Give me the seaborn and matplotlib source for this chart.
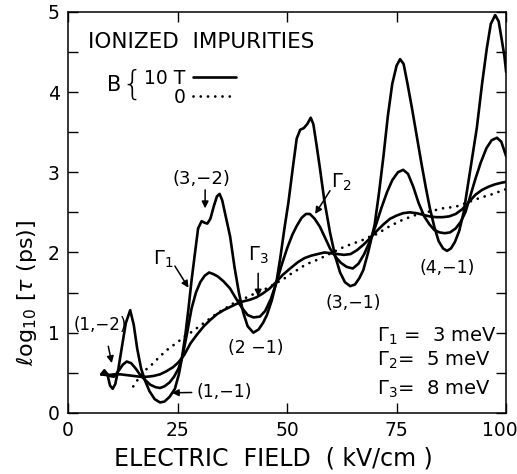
import numpy as np
import pandas as pd
import matplotlib
matplotlib.use('Agg')
import matplotlib.pyplot as plt
import matplotlib.transforms as mtransforms
import seaborn as sns

# curves: x = electric field (kV/cm), y = log10 tau (ps)
g1_x = [7.6, 8.3, 9.0, 9.6, 10.2, 10.8, 11.5, 12.3, 13.2, 14.2, 15.0, 15.8, 16.7, 17.6,
        18.6, 19.8, 21.0, 22.0, 23.2, 24.4, 25.3, 26.0, 26.8, 27.5, 28.2, 29.0, 29.7, 30.5,
        31.2, 31.8, 32.5, 33.3, 34.0, 34.6, 35.2, 36.0, 37.0, 38.0, 39.0, 40.0, 41.0, 42.3,
        43.5, 44.5, 45.4, 46.5, 47.6, 48.5, 49.4, 50.3, 51.3, 52.2, 53.0, 53.8, 54.6, 55.4,
        56.0, 56.7, 57.5, 58.5, 59.8, 61.0, 62.1, 63.2, 64.4, 65.5, 66.5, 67.4, 68.5, 70.0,
        71.0, 72.0, 73.0, 74.0, 75.0, 75.8, 76.6, 77.5, 78.5, 79.6, 80.7, 81.7, 82.6, 83.6,
        84.6, 85.6, 86.5, 87.4, 88.3, 89.3, 90.3, 91.3, 92.3, 93.3, 94.5, 95.6, 96.5, 97.5,
        98.3, 99.0, 99.6, 100.0]
g1_y = [0.48, 0.53, 0.48, 0.34, 0.30, 0.36, 0.55, 0.82, 1.12, 1.28, 1.10, 0.80, 0.55, 0.40,
        0.27, 0.17, 0.13, 0.14, 0.20, 0.30, 0.48, 0.68, 0.98, 1.30, 1.65, 2.00, 2.30, 2.39,
        2.37, 2.36, 2.42, 2.58, 2.70, 2.73, 2.65, 2.45, 2.20, 1.82, 1.50, 1.25, 1.08, 1.00,
        1.04, 1.12, 1.22, 1.40, 1.64, 1.95, 2.30, 2.62, 3.05, 3.42, 3.53, 3.55, 3.60, 3.68,
        3.60, 3.35, 3.05, 2.65, 2.25, 1.95, 1.75, 1.63, 1.58, 1.60, 1.68, 1.78, 2.00, 2.35,
        2.75, 3.20, 3.70, 4.10, 4.33, 4.41, 4.35, 4.10, 3.80, 3.45, 3.10, 2.80, 2.55, 2.32,
        2.14, 2.05, 2.02, 2.05, 2.13, 2.27, 2.50, 2.85, 3.20, 3.55, 4.10, 4.55, 4.85, 4.96,
        4.88, 4.65, 4.45, 4.25]

g2_x = [7.6, 8.5, 9.5, 10.5, 11.5, 12.5, 13.4, 14.4, 15.5, 16.5, 17.6, 18.8, 20.0, 21.0,
        22.0, 23.2, 24.2, 25.2, 26.2, 27.2, 28.2, 29.2, 30.2, 31.2, 32.2, 33.2, 34.2, 35.5,
        37.0, 38.3, 39.7, 41.0, 42.3, 43.8, 45.0, 46.3, 47.6, 48.8, 50.0, 51.2, 52.2, 53.3,
        54.3, 55.2, 56.3, 57.5, 58.7, 59.8, 61.0, 62.3, 63.6, 65.0, 66.3, 67.6, 68.9, 70.2,
        71.5, 72.8, 74.0, 75.3, 76.5, 77.6, 78.8, 80.0, 81.3, 82.5, 83.6, 84.8, 86.0, 87.2,
        88.5, 89.6, 90.7, 91.8, 93.0, 94.2, 95.5, 96.7, 97.9, 98.9, 100.0]
g2_y = [0.48, 0.50, 0.46, 0.45, 0.52, 0.60, 0.64, 0.62, 0.55, 0.47, 0.41, 0.35, 0.32, 0.31,
        0.33, 0.38, 0.45, 0.55, 0.72, 1.00, 1.30, 1.50, 1.63, 1.71, 1.75, 1.73, 1.70, 1.64,
        1.55, 1.43, 1.31, 1.22, 1.19, 1.20, 1.27, 1.42, 1.63, 1.85, 2.05, 2.22, 2.33, 2.43,
        2.48, 2.48, 2.42, 2.32, 2.18, 2.05, 1.95, 1.87, 1.82, 1.80, 1.86, 1.98, 2.14, 2.33,
        2.55, 2.75, 2.90, 3.00, 3.03, 2.98, 2.82, 2.62, 2.45, 2.35, 2.28, 2.25, 2.24, 2.25,
        2.30, 2.38, 2.50, 2.70, 2.92, 3.12, 3.30, 3.40, 3.43, 3.38, 3.20]

g3_x = [7.6, 9.0, 10.5, 12.0, 13.5, 15.0, 16.5, 18.0, 19.5, 21.0, 22.5, 24.0, 25.2, 26.5,
        28.0, 29.5, 31.0, 32.5, 34.0, 35.5, 37.0, 38.5, 40.0, 41.5, 43.0, 44.5, 46.0, 47.5,
        49.0, 50.7, 52.5, 54.0, 55.5, 57.0, 58.5, 60.0, 61.5, 63.0, 64.5, 66.0, 67.5, 69.0,
        70.5, 72.0, 73.5, 75.0, 76.5, 78.0, 79.5, 81.0, 82.5, 84.0, 85.5, 87.0, 88.5, 90.0,
        91.5, 93.0, 94.5, 96.0, 97.5, 99.0, 100.0]
g3_y = [0.48, 0.47, 0.48, 0.48, 0.47, 0.46, 0.45, 0.45, 0.46, 0.48, 0.52, 0.57, 0.63, 0.72,
        0.87, 0.98, 1.08, 1.16, 1.23, 1.28, 1.32, 1.36, 1.39, 1.41, 1.44, 1.49, 1.55, 1.63,
        1.72, 1.80, 1.88, 1.93, 1.96, 1.98, 2.00, 1.99, 1.98, 1.97, 1.98, 2.03, 2.10, 2.18,
        2.27, 2.35, 2.42, 2.46, 2.49, 2.50, 2.49, 2.47, 2.45, 2.44, 2.44, 2.45, 2.48, 2.54,
        2.63, 2.72, 2.78, 2.82, 2.85, 2.87, 2.88]

b0_x = [14.9, 16.0, 17.0, 18.0, 19.1, 20.2, 21.5, 22.5, 23.7, 25.0, 26.5, 28.0, 29.5, 31.0,
        32.5, 34.0, 35.5, 37.0, 38.5, 40.0, 41.6, 43.0, 44.5, 46.0, 47.5, 49.0, 50.5, 52.0,
        53.7, 55.5, 57.0, 58.5, 60.0, 61.5, 63.0, 64.5, 66.0, 67.5, 69.0, 70.5, 72.0, 73.5,
        75.0, 76.5, 78.0, 79.5, 81.0, 82.5, 84.0, 85.5, 87.0, 88.5, 90.0, 91.5, 93.0, 94.5,
        96.0, 97.5, 99.0, 100.0]
b0_y = [0.33, 0.42, 0.49, 0.55, 0.60, 0.66, 0.73, 0.78, 0.83, 0.88, 0.95, 1.00, 1.06, 1.12,
        1.18, 1.24, 1.29, 1.34, 1.39, 1.42, 1.46, 1.50, 1.53, 1.57, 1.62, 1.66, 1.72, 1.77,
        1.83, 1.88, 1.91, 1.95, 1.99, 2.03, 2.07, 2.10, 2.13, 2.16, 2.20, 2.23, 2.28, 2.33,
        2.37, 2.41, 2.44, 2.47, 2.49, 2.51, 2.53, 2.55, 2.56, 2.57, 2.60, 2.63, 2.66, 2.69,
        2.71, 2.74, 2.77, 2.79]

x_ticks = [0, 25, 50, 75, 100]
y_ticks = [0, 1, 2, 3, 4, 5]
widths = ['$\\Gamma_1$ =  3 meV', '$\\Gamma_2$=  5 meV', '$\\Gamma_3$=  8 meV']

sns.set_style('ticks')
plt.rcParams['font.family'] = ['DejaVu Sans']
for k in ['text.color', 'axes.labelcolor', 'xtick.color', 'ytick.color', 'axes.edgecolor']:
    plt.rcParams[k] = 'black'

fig = plt.figure(figsize=(5.17, 4.74), dpi=100)
ax = fig.add_axes([0.1315, 0.129, 0.8475, 0.846])

lw = 1.9
sns.lineplot(x=g1_x, y=g1_y, ax=ax, color='black', lw=lw)
sns.lineplot(x=g2_x, y=g2_y, ax=ax, color='black', lw=lw)
sns.lineplot(x=g3_x, y=g3_y, ax=ax, color='black', lw=lw)
sns.lineplot(x=b0_x, y=b0_y, ax=ax, color='black', lw=2.0)
lines = ax.get_lines()
dotted = lines[3]
dotted.set_linestyle((0, (0.01, 2.6)))
dotted.set_dash_capstyle('round')

ax.set_xlim(0, 100)
ax.set_ylim(0, 5)
ax.set_xticks(x_ticks)
ax.set_yticks(y_ticks)
ax.set_yticks(np.arange(0.5, 5, 1), minor=True)
ax.tick_params(which='both', direction='in', top=True, right=True, length=7, width=1,
               labelsize=13.5, pad=6)
for s in ax.spines.values():
    s.set_linewidth(1.1)
last = ax.get_xticklabels()[-1]
last.set_transform(last.get_transform() + mtransforms.ScaledTranslation(-0.06, 0, fig.dpi_scale_trans))

ax.set_xlabel('ELECTRIC  FIELD  ( kV/cm )', fontsize=17, labelpad=4)
ax.xaxis.set_label_coords(0.468, -0.085)
ax.set_ylabel('$\\ell\\mathrm{og}_{10}\\ [\\tau\\ (\\mathrm{ps})]$', fontsize=16)
ax.yaxis.set_label_coords(-0.067, 0.30)

# header and legend
ax.text(4.5, 4.63, 'IONIZED  IMPURITIES', fontsize=15.5, va='center', ha='left')
ax.text(8.9, 4.09, 'B', fontsize=15, va='center', ha='left')
ax.text(12.2, 4.09, '{', fontsize=24, fontweight='light', va='center', ha='left')
ax.legend(handles=[lines[0], dotted], labels=['10 T', '0'], markerfirst=False,
          frameon=False, fontsize=13.5, handlelength=2.3, handletextpad=0.4,
          labelspacing=0.0, loc='upper left', bbox_to_anchor=(0.173, 0.858),
          borderaxespad=0, borderpad=0)

# annotations
fs = 12.5
arrow = dict(arrowstyle='-|>', color='black', lw=1.1, mutation_scale=10, shrinkA=0, shrinkB=0)
ax.text(30.4, 2.91, '(3,\u22122)', fontsize=13, ha='center', va='center')
ax.annotate('', xy=(31.3, 2.55), xytext=(31.3, 2.78), arrowprops=arrow)
ax.text(62.3, 2.87, '$\\Gamma_2$', fontsize=14, ha='center', va='center')
ax.annotate('', xy=(56.4, 2.48), xytext=(59.8, 2.77), arrowprops=arrow)
ax.text(21.7, 1.91, '$\\Gamma_1$', fontsize=14, ha='center', va='center')
ax.annotate('', xy=(27.5, 1.56), xytext=(24.4, 1.83), arrowprops=arrow)
ax.text(43.4, 1.96, '$\\Gamma_3$', fontsize=14, ha='center', va='center')
ax.annotate('', xy=(43.4, 1.45), xytext=(43.4, 1.74), arrowprops=arrow)
ax.text(42.9, 0.81, '(2 \u22121)', fontsize=fs, ha='center', va='center')
ax.text(65.0, 1.37, '(3,\u22121)', fontsize=fs, ha='center', va='center')
ax.text(86.5, 1.81, '(4,\u22121)', fontsize=fs, ha='center', va='center')
ax.text(7.4, 1.09, '(1,\u22122)', fontsize=12, ha='center', va='center')
ax.annotate('', xy=(10.0, 0.62), xytext=(9.2, 0.83), arrowprops=arrow)
ax.annotate('(1,\u22121)', xy=(23.7, 0.25), xytext=(29.3, 0.26), fontsize=fs,
            ha='left', va='center', arrowprops=dict(arrow, shrinkA=1))
for i, t in enumerate(widths):
    ax.text(70.5, [0.96, 0.66, 0.29][i], t, fontsize=14, ha='left', va='center')

fig.savefig('out.png', dpi=100)
